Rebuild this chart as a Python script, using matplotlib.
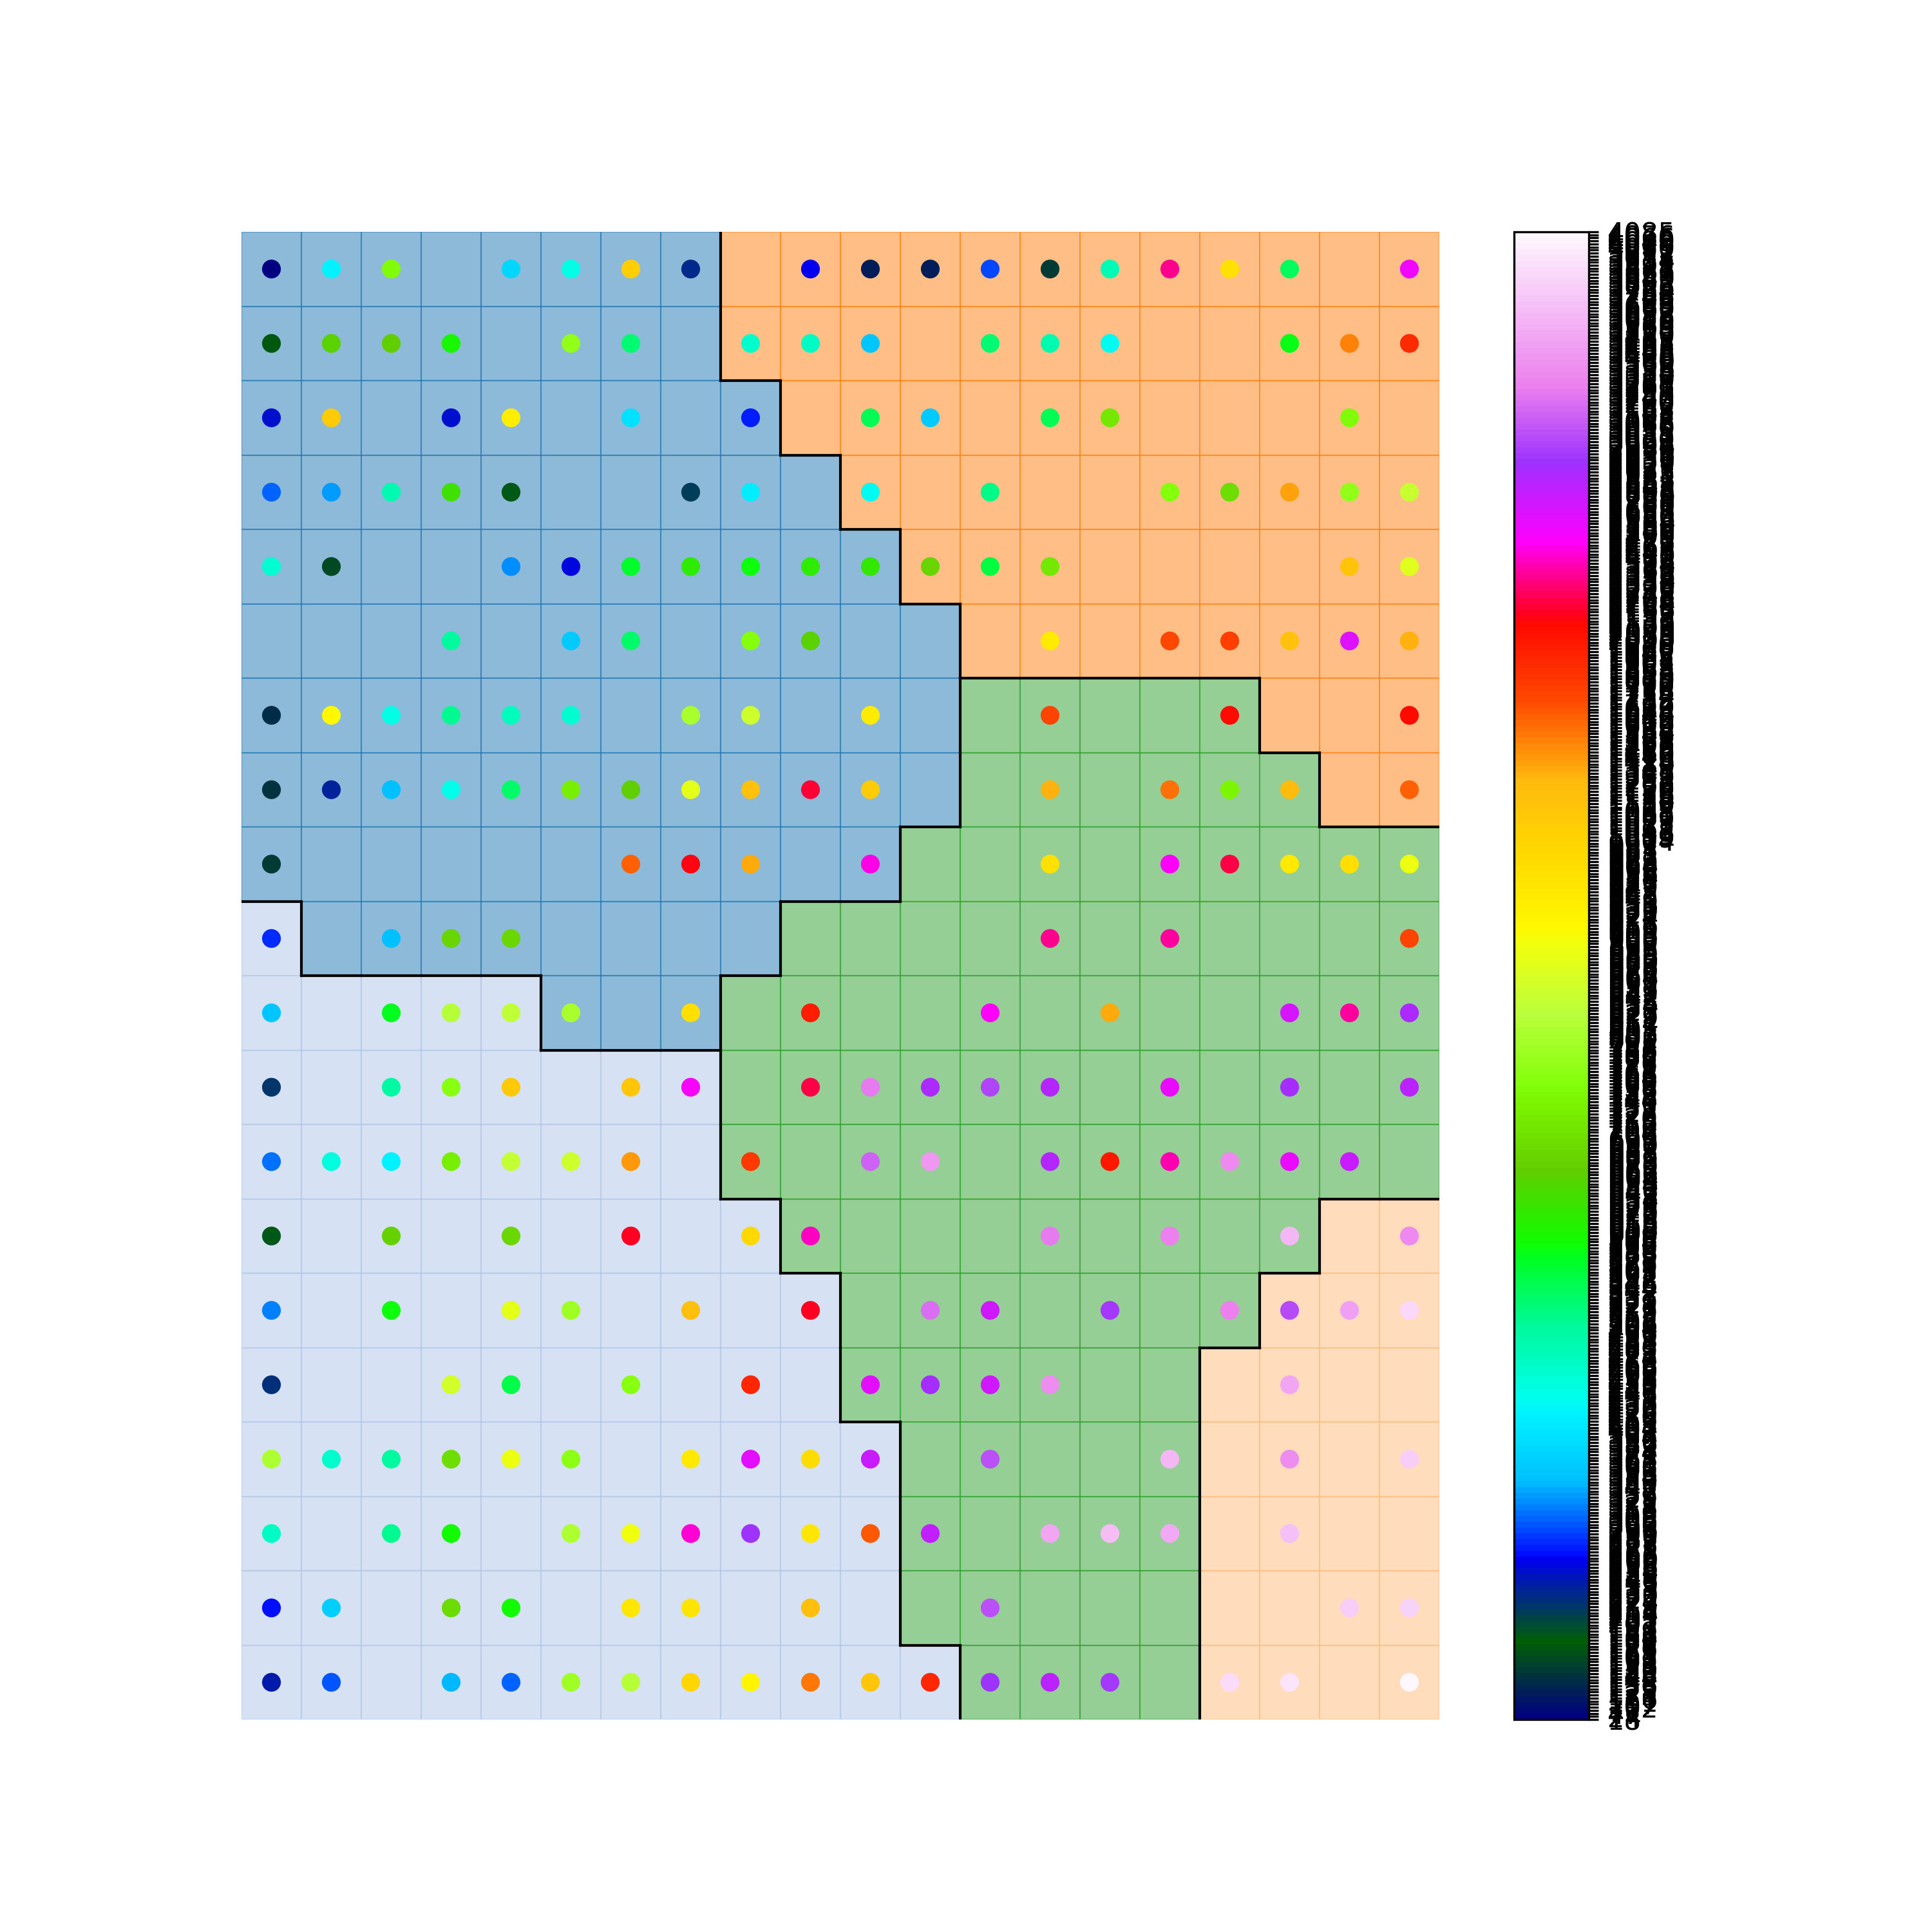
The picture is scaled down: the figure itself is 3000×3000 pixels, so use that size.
import numpy as np
import matplotlib

matplotlib.use("Agg")
import matplotlib.pyplot as plt
from matplotlib.colors import Normalize
from matplotlib.patches import Rectangle

# cluster of each map node, top row first (index into tab20)
cluster_rows = [
    "00000000222222222222",
    "00000000222222222222",
    "00000000022222222222",
    "00000000002222222222",
    "00000000000222222222",
    "00000000000022222222",
    "00000000000044444222",
    "00000000000044444422",
    "00000000000444444444",
    "10000000044444444444",
    "11111000444444444444",
    "11111111444444444444",
    "11111111444444444444",
    "11111111144444444433",
    "11111111114444444333",
    "11111111114444443333",
    "11111111111444443333",
    "11111111111444443333",
    "11111111111444443333",
    "11111111111144443333",
]

# value of the sample drawn on top at each node (0 = empty node)
node_values = [
    [18, 420, 756, 0, 374, 443, 1075, 230, 0, 260, 123, 125, 298, 153, 481, 2354, 954, 542, 0, 2505],
    [176, 664, 667, 603, 0, 771, 527, 0, 466, 468, 359, 0, 529, 483, 435, 0, 0, 588, 1527, 1903],
    [252, 1077, 0, 254, 939, 0, 390, 0, 275, 0, 544, 361, 0, 546, 710, 0, 0, 0, 758, 0],
    [306, 329, 485, 634, 184, 0, 0, 214, 413, 0, 437, 0, 512, 0, 0, 760, 695, 1414, 773, 847],
    [458, 161, 0, 0, 321, 256, 573, 618, 590, 620, 622, 679, 557, 712, 0, 0, 0, 0, 1150, 878],
    [0, 0, 0, 504, 0, 363, 531, 0, 762, 666, 0, 0, 0, 941, 0, 1752, 1790, 1152, 2655, 1339],
    [138, 916, 445, 506, 474, 460, 0, 801, 849, 0, 943, 0, 0, 1754, 0, 0, 2129, 0, 0, 2131],
    [148, 237, 352, 439, 533, 725, 668, 880, 1154, 2166, 1079, 0, 0, 1341, 0, 1564, 740, 1226, 0, 1640],
    [150, 0, 0, 0, 0, 0, 1642, 2133, 1343, 0, 2467, 0, 0, 956, 0, 2469, 2204, 945, 958, 893],
    [277, 0, 354, 681, 683, 0, 0, 0, 0, 0, 0, 0, 0, 2356, 0, 2358, 0, 0, 0, 1756],
    [356, 0, 575, 817, 832, 803, 0, 960, 0, 1978, 0, 0, 2471, 0, 1345, 0, 0, 2657, 2360, 2921],
    [222, 0, 496, 764, 1081, 0, 1083, 2473, 0, 2206, 3257, 2923, 2994, 2881, 0, 2580, 0, 2925, 0, 2843],
    [313, 447, 422, 727, 834, 851, 1416, 0, 1792, 0, 3107, 3408, 0, 2883, 1980, 2394, 3332, 2582, 2768, 0],
    [186, 0, 670, 0, 685, 0, 2135, 0, 985, 2396, 0, 0, 0, 3259, 0, 3261, 0, 3633, 0, 3334],
    [315, 0, 592, 0, 882, 786, 0, 1156, 0, 2137, 0, 3182, 2731, 0, 2956, 0, 3263, 3031, 3483, 3859],
    [224, 0, 0, 853, 548, 0, 766, 0, 1905, 0, 2584, 2927, 2733, 3336, 0, 0, 0, 3485, 0, 0],
    [805, 462, 498, 697, 895, 768, 0, 947, 2586, 969, 2806, 0, 3033, 0, 0, 3635, 0, 3338, 0, 3784],
    [470, 0, 508, 594, 0, 807, 897, 2430, 2929, 949, 1644, 2808, 0, 3487, 3637, 3489, 0, 3709, 0, 0],
    [268, 365, 0, 687, 596, 0, 951, 953, 0, 1158, 0, 0, 3035, 0, 0, 0, 0, 0, 3786, 3822],
    [239, 300, 0, 350, 302, 788, 819, 987, 918, 1529, 1085, 1907, 2931, 2845, 2933, 0, 3861, 3934, 0, 4085],
]

# samples covered by another sample on the same node (only seen as colour bar ticks)
hidden_sample_values = [
    24, 47, 71, 102, 107, 111, 116, 129, 133, 142, 144, 156, 159, 165, 169, 173,
    179, 181, 189, 193, 197, 201, 205, 209, 217, 219, 227, 233, 243, 246, 249,
    258, 263, 266, 271, 281, 285, 290, 293, 309, 318, 325,
    333, 337, 341, 345, 368, 371, 378, 382, 386, 394, 397, 401, 404,
    408, 416, 426, 430, 450, 453, 455, 477, 479,
    488, 491, 515, 519, 523, 537, 552,
    561, 565, 569, 579, 583, 599, 606, 610, 613, 615, 626, 629, 631,
    638, 642, 646, 650, 654, 658, 675, 690, 700, 704, 707,
    716, 720, 731, 735, 744, 748, 752, 776, 779, 782, 785,
    791, 795, 811, 814, 823, 827, 838, 842, 857, 860,
    864, 867, 870, 873, 886, 889, 900, 903, 906, 909, 912, 921, 924, 927, 930, 933, 936,
    964, 973, 977, 981, 992,
    1004, 1019, 1033, 1048, 1062,
    1112, 1190, 1262, 1298, 1380, 1440,
    1460, 1475, 1490, 1505, 1548, 1583, 1600, 1618, 1665, 1690, 1712, 1733, 1773, 1810,
    1835, 1852, 1868, 1885, 1925, 1942, 1960, 2000, 2025, 2050, 2075, 2100, 2185,
    2225, 2248, 2272, 2296, 2320, 2338, 2375, 2412, 2448, 2490, 2540,
    2620, 2700,
    2970, 2985, 3008, 3020, 3050, 3068, 3085, 3125, 3145, 3163, 3200, 3220, 3240, 3285, 3310,
    3360, 3380, 3428, 3448, 3465, 3510, 3535, 3560, 3585, 3610, 3660, 3685,
    3728, 3746, 3765, 3803, 3840, 3878, 3897, 3915, 3953, 3972, 3991, 4010, 4029, 4048, 4066, 4076,
]

clusters = np.array([[int(c) for c in row] for row in cluster_rows])
values = np.array(node_values, dtype=int)
n_rows, n_cols = clusters.shape

fig, ax = plt.subplots(figsize=(10, 10))
cluster_cmap = plt.get_cmap("tab20")

# node cells coloured by cluster
for i in range(n_rows):
    for j in range(n_cols):
        c = cluster_cmap(clusters[i, j])
        ax.add_patch(
            Rectangle((j, i), 1, 1, facecolor=c, edgecolor=c, alpha=0.5, linewidth=0.5)
        )

# black borders between clusters
for i in range(n_rows):
    for j in range(n_cols):
        if j + 1 < n_cols and clusters[i, j] != clusters[i, j + 1]:
            ax.plot([j + 1, j + 1], [i, i + 1], color="black", linewidth=1, zorder=2)
        if i + 1 < n_rows and clusters[i, j] != clusters[i + 1, j]:
            ax.plot([j, j + 1], [i + 1, i + 1], color="black", linewidth=1, zorder=2)

# samples on their nodes, coloured by position among all sample values
rows, cols = np.nonzero(values)
vals = values[rows, cols]
all_values = np.unique(np.concatenate([vals, hidden_sample_values]))
pos = np.searchsorted(all_values, vals)
norm = Normalize(vmin=0, vmax=len(all_values) - 1)
sc = ax.scatter(cols + 0.5, rows + 0.5, c=pos, cmap="gist_ncar", norm=norm, zorder=3)

ax.set_xlim(0, n_cols)
ax.set_ylim(n_rows, 0)
ax.axis("off")

cbar = fig.colorbar(sc, ax=ax)
cbar.set_ticks(np.arange(len(all_values)), labels=[str(v) for v in all_values])

fig.savefig("out.png", dpi=300)
